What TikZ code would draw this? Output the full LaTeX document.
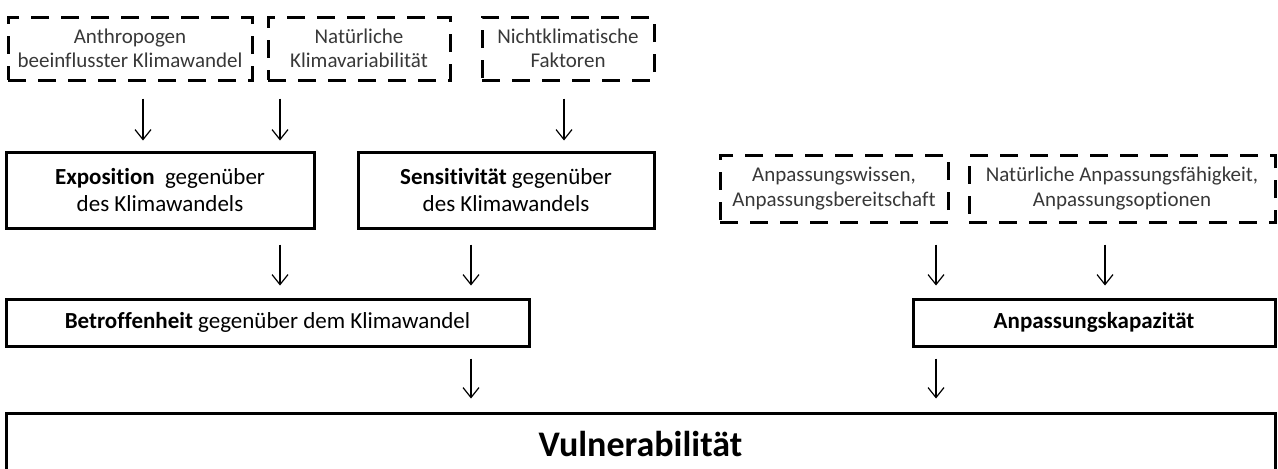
\documentclass[tikz,border=0pt]{standalone}
\usepackage{fontspec}
\setmainfont{Carlito}[Ligatures=NoCommon]
\usetikzlibrary{arrows.meta}

\begin{document}
\begin{tikzpicture}[x=0.5pt, y=-0.5pt,
    factorbox/.style={rectangle, draw, line width=1.5pt, dash pattern=on 9pt off 6pt, align=center, inner sep=0pt, text=black!78, font=\fontsize{10.5}{12.2}\selectfont, minimum height=31.5pt},
    mainbox/.style={rectangle, draw, line width=1.5pt, align=center, inner sep=0pt, font=\fontsize{11.5}{13.8}\selectfont},
    flow/.style={-{Straight Barb[length=5pt, width=8pt]}, line width=0.6pt}
]
    \useasboundingbox (0,0) rectangle (1278,468);

    % Climate factors (dashed)
    \node[factorbox, minimum width=122pt] (anthro) at (130,48.5) {Anthropogen\\beeinflusster Klimawandel};
    \node[factorbox, minimum width=91pt] (natvar) at (359,48.5) {Natürliche\\Klimavariabilität};
    \node[factorbox, minimum width=86pt] (nonclim) at (568,48.5) {Nichtklimatische\\Faktoren};

    % Exposition and sensitivity
    \node[mainbox, minimum width=154pt, minimum height=38pt] (expo) at (160,190) {\textbf{Exposition}\ \ gegenüber\\des Klimawandels};
    \node[mainbox, minimum width=148pt, minimum height=38pt] (sens) at (506,190) {\textbf{Sensitivität} gegenüber\\des Klimawandels};

    % Adaptation factors (dashed)
    \node[factorbox, minimum width=114pt, minimum height=33.5pt] (know) at (834,188.5) {Anpassungswissen,\\Anpassungsbereitschaft};
    \node[factorbox, minimum width=153pt, minimum height=33.5pt] (natadapt) at (1122,188.5) {Natürliche Anpassungsfähigkeit,\\Anpassungsoptionen};

    % Impact and adaptive capacity
    \node[mainbox, minimum width=261.5pt, minimum height=23.5pt] (betr) at (267.5,322.5) {\textbf{Betroffenheit} gegenüber dem Klimawandel};
    \node[mainbox, minimum width=181pt, minimum height=23.5pt] (kap) at (1094,322.5) {\textbf{Anpassungskapazität}};

    % Vulnerability
    \node[mainbox, minimum width=634.5pt, minimum height=31pt, font=\bfseries\fontsize{18}{22}\selectfont] (vuln) at (640.5,444) {Vulnerabilität};

    % Arrow columns
    \coordinate (c1) at (143,0);
    \coordinate (c2) at (280,0);
    \coordinate (c3) at (564,0);
    \coordinate (c4) at (471,0);
    \coordinate (c5) at (936,0);
    \coordinate (c6) at (1105,0);

    % Arrows
    \draw[flow, shorten <=8.5pt, shorten >=5pt] (anthro.south -| c1) -- (expo.north -| c1);
    \draw[flow, shorten <=8.5pt, shorten >=5pt] (natvar.south -| c2) -- (expo.north -| c2);
    \draw[flow, shorten <=8.5pt, shorten >=5pt] (nonclim.south -| c3) -- (sens.north -| c3);
    \draw[flow, shorten <=7.5pt, shorten >=6pt] (expo.south -| c2) -- (betr.north -| c2);
    \draw[flow, shorten <=7.5pt, shorten >=6pt] (sens.south -| c4) -- (betr.north -| c4);
    \draw[flow, shorten <=10.5pt, shorten >=6pt] (know.south -| c5) -- (kap.north -| c5);
    \draw[flow, shorten <=10.5pt, shorten >=6pt] (natadapt.south -| c6) -- (kap.north -| c6);
    \draw[flow, shorten <=5.5pt, shorten >=6.5pt] (betr.south -| c4) -- (vuln.north -| c4);
    \draw[flow, shorten <=5.5pt, shorten >=6.5pt] (kap.south -| c5) -- (vuln.north -| c5);

\end{tikzpicture}
\end{document}
